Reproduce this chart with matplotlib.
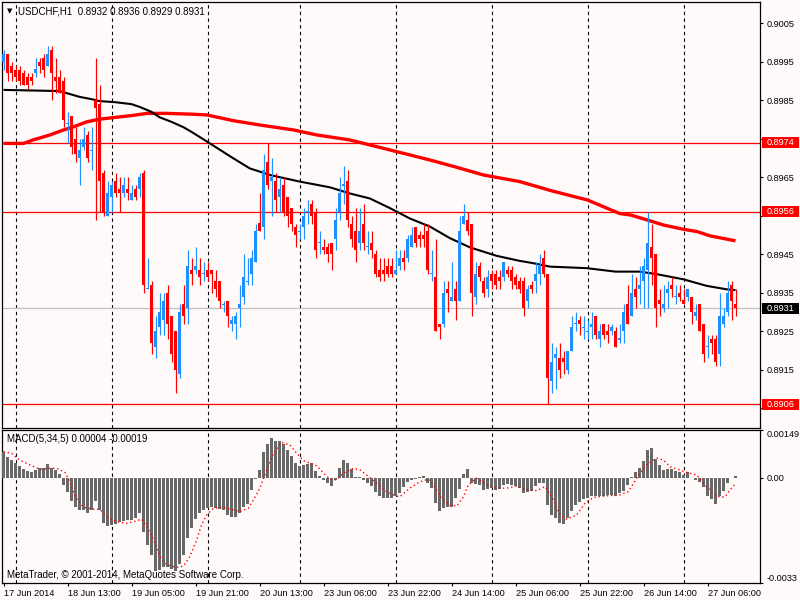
import numpy as np
import matplotlib
matplotlib.use("Agg")
import matplotlib.pyplot as plt
from matplotlib.patches import Rectangle

# ---------------- data ----------------
opens = [0.8995,0.8997,0.8994,0.8993,0.8993,0.8992,0.8991,0.8991,0.8992,0.8995,
         0.8996,0.8994,0.8998,0.8991,0.8991,0.8990,0.8979,0.8981,0.8975,0.8970,
         0.8973,0.8976,0.8972,0.8985,0.8984,0.8966,0.8955,0.8960,0.8964,0.8962,
         0.8961,0.8962,0.8959,0.8962,0.8962,0.8966,0.8936,0.8937,0.8921,0.8926,
         0.8928,0.8935,0.8929,0.8925,0.8914,0.8932,0.8931,0.8941,0.8941,0.8941,
         0.8940,0.8941,0.8941,0.8938,0.8938,0.8932,0.8933,0.8927,0.8927,0.8931,
         0.8934,0.8938,0.8940,0.8943,0.8953,0.8952,0.8969,0.8964,0.8964,0.8960,
         0.8963,0.8960,0.8957,0.8952,0.8951,0.8952,0.8956,0.8958,0.8956,0.8948,
         0.8947,0.8947,0.8948,0.8949,0.8956,0.8963,0.8964,0.8953,0.8951,0.8948,
         0.8953,0.8947,0.8948,0.8945,0.8941,0.8941,0.8942,0.8942,0.8940,0.8942,
         0.8944,0.8944,0.8947,0.8952,0.8950,0.8950,0.8951,0.8940,0.8939,0.8927,
         0.8927,0.8936,0.8933,0.8936,0.8933,0.8953,0.8954,0.8953,0.8934,0.8942,
         0.8938,0.8936,0.8940,0.8940,0.8939,0.8939,0.8941,0.8941,0.8939,0.8938,
         0.8938,0.8933,0.8937,0.8938,0.8940,0.8944,0.8940,0.8912,0.8918,0.8918,
         0.8918,0.8915,0.8920,0.8927,0.8928,0.8926,0.8925,0.8926,0.8929,0.8923,
         0.8927,0.8925,0.8925,0.8925,0.8923,0.8925,0.8932,0.8929,0.8936,0.8936,
         0.8938,0.8941,0.8947,0.8945,0.8933,0.8931,0.8935,0.8937,0.8934,0.8935,
         0.8933,0.8934,0.8934,0.8929,0.8932,0.8927,0.8921,0.8923,0.8923,0.8919,
         0.8927,0.8930,0.8937,0.8932]
highs = [0.8998,0.8997,0.8995,0.8994,0.8994,0.8993,0.8992,0.8992,0.8996,0.8996,
         0.8997,0.8999,0.8999,0.8996,0.8993,0.8991,0.8982,0.8981,0.8978,0.8975,
         0.8978,0.8977,0.8978,0.8996,0.8989,0.8967,0.8964,0.8964,0.8966,0.8965,
         0.8965,0.8965,0.8963,0.8963,0.8966,0.8967,0.8944,0.8938,0.8929,0.8935,
         0.8935,0.8937,0.8929,0.8925,0.8932,0.8937,0.8946,0.8944,0.8947,0.8944,
         0.8943,0.8943,0.8941,0.8941,0.8938,0.8933,0.8933,0.8929,0.8930,0.8937,
         0.8945,0.8944,0.8946,0.8953,0.8961,0.8971,0.8974,0.8970,0.8966,0.8965,
         0.8965,0.8960,0.8957,0.8953,0.8953,0.8957,0.8959,0.8959,0.8957,0.8951,
         0.8949,0.8948,0.8948,0.8957,0.8965,0.8968,0.8967,0.8955,0.8957,0.8957,
         0.8958,0.8951,0.8951,0.8946,0.8944,0.8944,0.8944,0.8944,0.8946,0.8946,
         0.8946,0.8950,0.8952,0.8952,0.8951,0.8953,0.8953,0.8946,0.8949,0.8927,
         0.8938,0.8938,0.8943,0.8938,0.8955,0.8958,0.8956,0.8953,0.8943,0.8943,
         0.8939,0.8941,0.8941,0.8941,0.8941,0.8943,0.8942,0.8942,0.8940,0.8939,
         0.8939,0.8937,0.8938,0.8943,0.8945,0.8946,0.8940,0.8922,0.8921,0.8922,
         0.8920,0.8920,0.8929,0.8930,0.8929,0.8929,0.8928,0.8930,0.8929,0.8927,
         0.8927,0.8927,0.8927,0.8926,0.8927,0.8932,0.8937,0.8940,0.8939,0.8942,
         0.8944,0.8956,0.8953,0.8945,0.8936,0.8937,0.8938,0.8939,0.8937,0.8937,
         0.8936,0.8936,0.8934,0.8932,0.8932,0.8927,0.8924,0.8924,0.8924,0.8935,
         0.8931,0.8938,0.8938,0.8936]
lows = [0.8993,0.8990,0.8990,0.8990,0.8989,0.8989,0.8988,0.8989,0.8991,0.8992,
        0.8991,0.8994,0.8985,0.8987,0.8987,0.8978,0.8974,0.8971,0.8969,0.8963,
        0.8972,0.8969,0.8967,0.8954,0.8956,0.8955,0.8955,0.8956,0.8960,0.8956,
        0.8960,0.8959,0.8959,0.8959,0.8960,0.8935,0.8936,0.8919,0.8918,0.8924,
        0.8924,0.8923,0.8917,0.8909,0.8913,0.8927,0.8927,0.8937,0.8940,0.8937,
        0.8938,0.8938,0.8935,0.8934,0.8931,0.8930,0.8926,0.8925,0.8923,0.8926,
        0.8932,0.8937,0.8937,0.8943,0.8951,0.8949,0.8962,0.8955,0.8956,0.8956,
        0.8955,0.8952,0.8951,0.8947,0.8949,0.8949,0.8953,0.8953,0.8944,0.8945,
        0.8945,0.8943,0.8941,0.8946,0.8954,0.8958,0.8952,0.8947,0.8943,0.8946,
        0.8946,0.8945,0.8944,0.8939,0.8938,0.8938,0.8939,0.8939,0.8940,0.8941,
        0.8941,0.8943,0.8947,0.8947,0.8947,0.8947,0.8940,0.8938,0.8925,0.8923,
        0.8926,0.8930,0.8933,0.8928,0.8933,0.8953,0.8950,0.8929,0.8932,0.8938,
        0.8934,0.8934,0.8936,0.8936,0.8936,0.8938,0.8939,0.8936,0.8936,0.8935,
        0.8929,0.8931,0.8935,0.8935,0.8937,0.8939,0.8906,0.8909,0.8910,0.8913,
        0.8914,0.8914,0.8920,0.8925,0.8924,0.8923,0.8923,0.8923,0.8923,0.8921,
        0.8923,0.8922,0.8924,0.8921,0.8922,0.8922,0.8927,0.8929,0.8931,0.8932,
        0.8931,0.8931,0.8937,0.8926,0.8929,0.8930,0.8931,0.8934,0.8932,0.8933,
        0.8932,0.8933,0.8927,0.8928,0.8925,0.8917,0.8918,0.8919,0.8916,0.8916,
        0.8926,0.8929,0.8928,0.8929]
closes = [0.8997,0.8992,0.8992,0.8991,0.8990,0.8989,0.8989,0.8990,0.8993,0.8994,
          0.8993,0.8997,0.8992,0.8990,0.8987,0.8980,0.8979,0.8973,0.8971,0.8972,
          0.8975,0.8970,0.8972,0.8983,0.8964,0.8956,0.8961,0.8963,0.8961,0.8961,
          0.8963,0.8961,0.8961,0.8960,0.8965,0.8937,0.8936,0.8922,0.8925,0.8930,
          0.8933,0.8927,0.8919,0.8915,0.8930,0.8929,0.8942,0.8940,0.8942,0.8939,
          0.8940,0.8939,0.8940,0.8936,0.8933,0.8932,0.8929,0.8928,0.8929,0.8932,
          0.8939,0.8938,0.8944,0.8951,0.8951,0.8967,0.8963,0.8965,0.8959,0.8962,
          0.8956,0.8955,0.8953,0.8950,0.8951,0.8955,0.8956,0.8955,0.8946,0.8948,
          0.8946,0.8945,0.8945,0.8954,0.8961,0.8963,0.8954,0.8949,0.8946,0.8951,
          0.8948,0.8947,0.8946,0.8940,0.8939,0.8940,0.8940,0.8940,0.8941,0.8944,
          0.8943,0.8949,0.8950,0.8948,0.8949,0.8949,0.8941,0.8940,0.8925,0.8926,
          0.8935,0.8935,0.8934,0.8933,0.8951,0.8955,0.8951,0.8935,0.8940,0.8939,
          0.8935,0.8939,0.8938,0.8937,0.8938,0.8943,0.8940,0.8938,0.8937,0.8936,
          0.8931,0.8936,0.8936,0.8940,0.8942,0.8940,0.8913,0.8917,0.8919,0.8915,
          0.8917,0.8920,0.8926,0.8927,0.8927,0.8926,0.8925,0.8927,0.8924,0.8925,
          0.8924,0.8924,0.8926,0.8921,0.8923,0.8930,0.8927,0.8935,0.8934,0.8937,
          0.8942,0.8948,0.8944,0.8931,0.8932,0.8932,0.8936,0.8936,0.8934,0.8934,
          0.8932,0.8936,0.8930,0.8930,0.8925,0.8919,0.8921,0.8922,0.8917,0.8929,
          0.8929,0.8935,0.8933,0.8931]

# moving averages: (bar index, price)
ma_black_idx = [0,14,16,19,22,24,28,32,34,37,39,42,45,47,51,57.5,61.6,64,66.6,74,
                81.6,86.6,91.6,96.6,101.6,106.6,111.6,116.6,123.3,129,132.4,136.6,
                145.8,153,159,163,170,175.8,180.8,183]
ma_black_val = [0.89877,0.89874,0.89868,0.89859,0.89853,0.89848,0.89845,0.89840,0.89833,
                0.89820,0.89806,0.89794,0.89780,0.89768,0.89742,0.89699,0.89673,0.89665,
                0.89656,0.89639,0.89624,0.89608,0.89595,0.89570,0.89543,0.89522,0.89492,
                0.89468,0.89446,0.89433,0.89427,0.89418,0.89414,0.89405,0.89405,0.89399,
                0.89385,0.89368,0.89359,0.89357]
ma_red_idx = [0,5,7.4,11.6,15,17.5,20.8,24,28.3,32.5,35.8,40.8,47,50.8,57.5,64,72.5,
              78.3,86.6,97.4,106.6,113.3,120,129,137,146,154,156.8,161.6,165,170,173.4,
              176.6,183]
ma_red_val = [0.89738,0.89738,0.89747,0.89760,0.89773,0.89781,0.89794,0.89801,0.89806,
              0.89811,0.89816,0.89816,0.89814,0.89812,0.89797,0.89786,0.89773,0.89760,
              0.89747,0.89719,0.89695,0.89676,0.89656,0.89639,0.89615,0.89591,0.89556,
              0.89552,0.89537,0.89526,0.89515,0.89509,0.89498,0.89485]

# MACD histogram (x 1e-4)
macd_hist = [8.1,6.6,5.5,4.7,3.7,2.6,2.2,1.9,2.4,2.9,2.9,4.2,2.9,2.4,1.0,-2.3,-4.4,-7.2,
             -9.3,-10.3,-10.1,-11.0,-10.3,-7.3,-10.1,-14.1,-15.1,-14.8,-14.5,-13.8,-13.5,
             -13.3,-13.3,-12.7,-11.0,-16.9,-21.1,-24.2,-29.1,-28.9,-27.9,-27.9,-28.7,-29.1,
             -27.0,-24.2,-19.0,-15.9,-13.0,-11.2,-10.1,-9.6,-9.3,-9.6,-9.9,-10.3,-11.7,
             -12.2,-12.2,-11.0,-9.3,-8.2,-3.9,-0.5,2.4,8.1,10.5,12.3,11.6,11.6,10.5,8.5,
             6.8,4.5,3.7,4.0,4.3,4.5,2.2,0.5,-0.7,-1.6,-2.6,-0.7,2.9,5.5,4.5,2.6,0.3,0.1,
             -0.7,-1.8,-2.6,-4.4,-5.7,-6.5,-6.5,-6.5,-5.9,-4.8,-2.8,-1.3,-0.7,-0.5,0.1,
             0.5,-1.8,-3.3,-7.8,-10.6,-9.6,-9.1,-9.1,-6.5,-3.7,1.1,2.6,-1.6,-2.0,-2.3,
             -3.9,-3.7,-3.3,-3.9,-3.7,-2.3,-2.0,-2.3,-2.6,-3.3,-4.9,-4.4,-4.1,-2.6,-1.6,
             -1.6,-8.6,-11.7,-12.7,-14.1,-14.5,-12.7,-10.6,-8.6,-7.5,-6.8,-6.5,-5.9,-5.9,
             -5.7,-5.7,-5.4,-5.4,-5.7,-4.9,-4.1,-2.3,0.3,1.6,2.9,5.3,8.5,9.2,5.7,4.0,2.4,
             2.6,2.6,2.2,1.9,0.8,1.6,-0.2,-0.7,-1.3,-2.8,-5.7,-6.8,-8.2,-5.7,-4.1,-1.6,
             -0.2,0.4]
sig_idx = [0,2,4,6.6,9,11.6,13.3,15.4,16.6,17.9,20,22.5,24,25.8,28.3,30.8,32.5,34.5,
           35.8,37.5,39.1,40.8,43.3,45,46.6,48.3,49.5,50.8,52.5,55,57.5,59.1,61.2,62.5,
           64.1,65.8,67.5,69.5,71.6,73.3,75,76.6,78.3,80,81.6,83.3,85,87.5,89.1,90.8,
           93.3,95.8,98,99.1,101.6,104.1,106.2,107.5,109.5,111.6,113.3,115,116.2,118.3,
           120.8,123.3,125.8,128.3,130.8,133.3,135.4,137.5,139.1,140.8,143.3,145.4,
           147.5,150.8,154.1,156.2,157.5,159.1,160.8,163.3,165,166.6,169.1,170.8,173.3,
           175,177,179.1,180.4,181.6,183]
sig_val = [8.1,7.6,5.5,4.0,2.6,2.9,2.9,1.6,-1.3,-6.0,-9.3,-9.9,-9.9,-12.2,-13.8,-14.3,
           -13.8,-13.0,-15.3,-19.5,-24.7,-27.3,-28.1,-27.7,-24.7,-19.5,-14.8,-11.7,-9.6,
           -9.3,-10.1,-10.6,-9.6,-7.0,-3.3,2.4,7.6,11.0,10.2,7.6,5.3,4.5,3.7,1.4,-0.5,
           -0.7,1.4,2.9,2.4,0.8,-1.8,-4.4,-5.7,-6.0,-3.3,-1.3,-0.5,-2.3,-6.5,-8.6,-8.9,
           -6.0,-2.3,-0.2,-2.3,-3.3,-3.3,-2.6,-3.9,-4.1,-2.8,-7.0,-11.7,-13.0,-11.7,-8.0,
           -6.2,-5.7,-5.4,-4.4,-1.8,1.4,4.0,6.1,5.5,3.4,2.4,1.6,0.8,-1.8,-4.4,-6.2,-6.0,
           -3.9,-1.9]

levels_red = [0.8974, 0.8956, 0.8906]
bid_price = 0.8931
price_ticks = [0.8905,0.8915,0.8925,0.8935,0.8945,0.8955,0.8965,0.8975,0.8985,0.8995,0.9005]
# tick labels hidden behind the price boxes in the reference are left blank
price_tick_labels = ["","0.8915","0.8925","0.8935","0.8945","","0.8965","","0.8985",
                     "0.8995","0.9005"]
grid_bars = [3, 27, 51, 74, 98, 122, 146, 170]
time_tick_bars = [0,16,32,48,64,80,96,112,128,144,160,176]
time_tick_labels = ["17 Jun 2014","18 Jun 13:00","19 Jun 05:00","19 Jun 21:00",
                    "20 Jun 13:00","23 Jun 06:00","23 Jun 22:00","24 Jun 14:00",
                    "25 Jun 06:00","25 Jun 22:00","26 Jun 14:00","27 Jun 06:00"]
macd_ticks = [0.00149, 0.0, -0.0033]
macd_tick_labels = ["0.00149", "0.00", "-0.0033"]

# ---------------- drawing ----------------
BG = "#FFFAFA"
BULL = "#1E90FF"
BEAR = "#FF0000"
FONT = "Liberation Sans"
FS = 6.6
W, H = 800, 600

fig = plt.figure(figsize=(8, 6), dpi=100, facecolor=BG)
ax = fig.add_axes([2/W, 1-428/H, 758/W, 426/H], facecolor=BG)
ax2 = fig.add_axes([2/W, 1-583/H, 758/W, 153/H], facecolor=BG)

O = np.array(opens); Hh = np.array(highs); L = np.array(lows); C = np.array(closes)
n = len(O)
x = np.arange(n)
cols = np.where(C >= O, BULL, BEAR)

xl = ((2-3.5)/4, (760-3.5)/4)
for a in (ax, ax2):
    a.set_xlim(*xl)
    for g in grid_bars:
        a.axvline(g, color="black", lw=0.8, ls=(0, (3, 3)), zorder=1)
    for s in a.spines.values():
        s.set_color("black"); s.set_linewidth(0.9)

# main price panel
ylo = 0.9005 - (428-23.3)/38500
yhi = 0.9005 + (23.3-2)/38500
ax.set_ylim(ylo, yhi)

for lv in levels_red:
    ax.axhline(lv, color=BEAR, lw=0.9, zorder=2)
ax.axhline(bid_price, color="#C0C0C0", lw=0.9, zorder=2)

ax.plot(ma_red_idx, ma_red_val, color=BEAR, lw=2.4, zorder=3, solid_capstyle="butt")
ax.plot(ma_black_idx, ma_black_val, color="black", lw=1.5, zorder=4, solid_capstyle="butt")

ax.vlines(x, L, Hh, colors=cols, lw=0.85, zorder=5)
minh = 1.0/38500
body_h = np.maximum(np.abs(C-O), minh)
body_b = np.where(np.abs(C-O) < minh, (O+C)/2 - minh/2, np.minimum(O, C))
ax.bar(x, body_h, bottom=body_b, width=0.75, color=cols, linewidth=0, zorder=6)

ax.yaxis.tick_right()
ax.set_yticks(price_ticks)
ax.set_yticklabels(price_tick_labels, fontsize=FS, family=FONT)
ax.tick_params(axis="y", direction="out", length=2.5, width=0.8, pad=2.5, colors="black")
ax.set_xticks([])

# price label boxes on the right
ytr = ax.get_yaxis_transform()
bx0 = (762-2)/758
bw = (799-762)/758
bh = 11/38500
for lv, fc in [(levels_red[0], BEAR), (levels_red[1], BEAR), (levels_red[2], BEAR), (bid_price, "black")]:
    ax.add_patch(Rectangle((bx0, lv - bh/2), bw, bh, transform=ytr, facecolor=fc,
                           edgecolor="none", clip_on=False, zorder=10))
    ax.text(bx0 + bw/2, lv, f"{lv:.4f}", transform=ytr, color="white", fontsize=FS,
            family=FONT, ha="center", va="center", clip_on=False, zorder=11)

# MACD panel
ax2.set_ylim(-0.0033, 0.00149)
hist = np.array(macd_hist) * 1e-4
ax2.bar(x, hist, width=0.72, color="#696969", linewidth=0, zorder=3)
ax2.plot(sig_idx, np.array(sig_val) * 1e-4, color=BEAR, lw=1.0, ls=(0, (1, 2)), zorder=4)
ax2.yaxis.tick_right()
ax2.set_yticks(macd_ticks)
ax2.set_yticklabels(macd_tick_labels, fontsize=FS, family=FONT)
labs = ax2.get_yticklabels()
labs[0].set_va("top"); labs[2].set_va("bottom")
ax2.tick_params(axis="y", direction="out", length=2.5, width=0.8, pad=2.5)

ax2.set_xticks(time_tick_bars)
ax2.set_xticklabels(time_tick_labels, fontsize=FS, family=FONT)
for t in ax2.get_xticklabels():
    t.set_ha("left")
ax2.tick_params(axis="x", direction="out", length=2.5, width=0.8, pad=1.5)

# texts
fig.text(7/W, 1-11/H, "\u25BC", fontsize=5, family="DejaVu Sans", color="black", va="center")
fig.text(18/W, 1-11/H, "USDCHF,H1  0.8932 0.8936 0.8929 0.8931", fontsize=FS + 0.4,
         family=FONT, color="black", va="center")
fig.text(7/W, 1-439/H, "MACD(5,34,5) 0.00004 -0.00019", fontsize=FS + 0.4,
         family=FONT, color="black", va="center")
fig.text(7/W, 1-575/H, "MetaTrader, \u00A9 2001-2014, MetaQuotes Software Corp.",
         fontsize=FS + 0.4, family=FONT, color="black", va="center")

fig.savefig("out.png", dpi=100, facecolor=BG)
